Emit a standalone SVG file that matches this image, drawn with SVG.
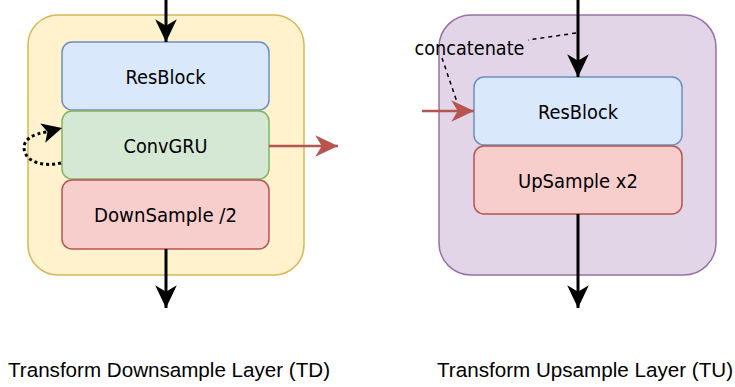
<svg xmlns="http://www.w3.org/2000/svg" width="735" height="387" viewBox="0 0 735 387">
<style>
.lbl{font-family:"DejaVu Sans",Verdana,sans-serif;font-size:20px;fill:#000;text-anchor:middle}
.cap{font-family:"Liberation Sans",Arial,Helvetica,sans-serif;font-size:20.5px;fill:#000}
.blk{stroke:#000;stroke-width:3;fill:none}
.red{stroke:#b85450;stroke-width:2.5;fill:none}
.blue{fill:#dae8fc;stroke:#6c8ebf;stroke-width:1.5}
.green{fill:#d5e8d4;stroke:#82b366;stroke-width:1.5}
.pink{fill:#f8cecc;stroke:#b85450;stroke-width:1.5}
</style>
<defs>
<marker id="ab" markerUnits="userSpaceOnUse" markerWidth="26" markerHeight="26" viewBox="-22 -11 24 22" refX="0" refY="0" orient="auto">
<path d="M0,0 L-21,-10 L-15,0 L-21,10 Z" fill="#000"/>
</marker>
<marker id="ar" markerUnits="userSpaceOnUse" markerWidth="26" markerHeight="26" viewBox="-22 -11 24 22" refX="0" refY="0" orient="auto">
<path d="M0,0 L-21,-10 L-15,0 L-21,10 Z" fill="#b85450"/>
</marker>
</defs>

<g id="td-container">
<rect x="28" y="15" width="276" height="260" rx="30" ry="30" fill="#fff2cc" stroke="#d6b656" stroke-width="1.5"/>
</g>
<g id="tu-container">
<rect x="439" y="15" width="277" height="260" rx="32" ry="32" fill="#e1d5e7" stroke="#9673a6" stroke-width="1.5"/>
</g>

<g id="td-resblock">
<rect class="blue" x="62" y="42" width="207" height="68" rx="10" ry="10"/>
<text class="lbl" x="165.5" y="83.5" textLength="80" lengthAdjust="spacingAndGlyphs">ResBlock</text>
</g>
<g id="td-convgru">
<rect class="green" x="62" y="111" width="207" height="68" rx="10" ry="10"/>
<text class="lbl" x="165.5" y="152.5" textLength="84" lengthAdjust="spacingAndGlyphs">ConvGRU</text>
</g>
<g id="td-downsample">
<rect class="pink" x="62" y="180" width="207" height="69" rx="10" ry="10"/>
<text class="lbl" x="165.5" y="222" textLength="143" lengthAdjust="spacingAndGlyphs">DownSample /2</text>
</g>

<g id="tu-resblock">
<rect class="blue" x="474" y="77" width="208" height="68" rx="10" ry="10"/>
<text class="lbl" x="578" y="118.5" textLength="80" lengthAdjust="spacingAndGlyphs">ResBlock</text>
</g>
<g id="tu-upsample">
<rect class="pink" x="474" y="146" width="208" height="68" rx="10" ry="10"/>
<text class="lbl" x="578" y="187.5" textLength="120" lengthAdjust="spacingAndGlyphs">UpSample x2</text>
</g>

<g id="connectors">
<line class="blk" x1="166" y1="0" x2="166" y2="42" marker-end="url(#ab)"/>
<line class="blk" x1="166" y1="249" x2="166" y2="308" marker-end="url(#ab)"/>
<line class="red" x1="269" y1="146" x2="338" y2="146" marker-end="url(#ar)"/>
<path d="M61,163 C45,167 25,163 24,148 C24,139 33,134 47,132" fill="none" stroke="#000" stroke-width="3" stroke-dasharray="3 3"/>
<path d="M62,128 L40.2,123.4 L47.5,131.8 L45.2,142.8 Z" fill="#000"/>
<line class="blk" x1="578" y1="0" x2="578" y2="77" marker-end="url(#ab)"/>
<line class="blk" x1="578" y1="214" x2="578" y2="308" marker-end="url(#ab)"/>
<line class="red" x1="422" y1="111" x2="474" y2="111" marker-end="url(#ar)"/>
<line x1="576" y1="33" x2="528" y2="40" stroke="#000" stroke-width="1.5" stroke-dasharray="4 4"/>
<line x1="442" y1="58" x2="457" y2="102" stroke="#000" stroke-width="1.5" stroke-dasharray="4 4"/>
<text class="lbl" x="469.5" y="54.5" textLength="110" lengthAdjust="spacingAndGlyphs">concatenate</text>
</g>

<g id="captions">
<text class="cap" x="8" y="377" textLength="322" lengthAdjust="spacingAndGlyphs">Transform Downsample Layer (TD)</text>
<text class="cap" x="437" y="377" textLength="296" lengthAdjust="spacingAndGlyphs">Transform Upsample Layer (TU)</text>
</g>
</svg>
